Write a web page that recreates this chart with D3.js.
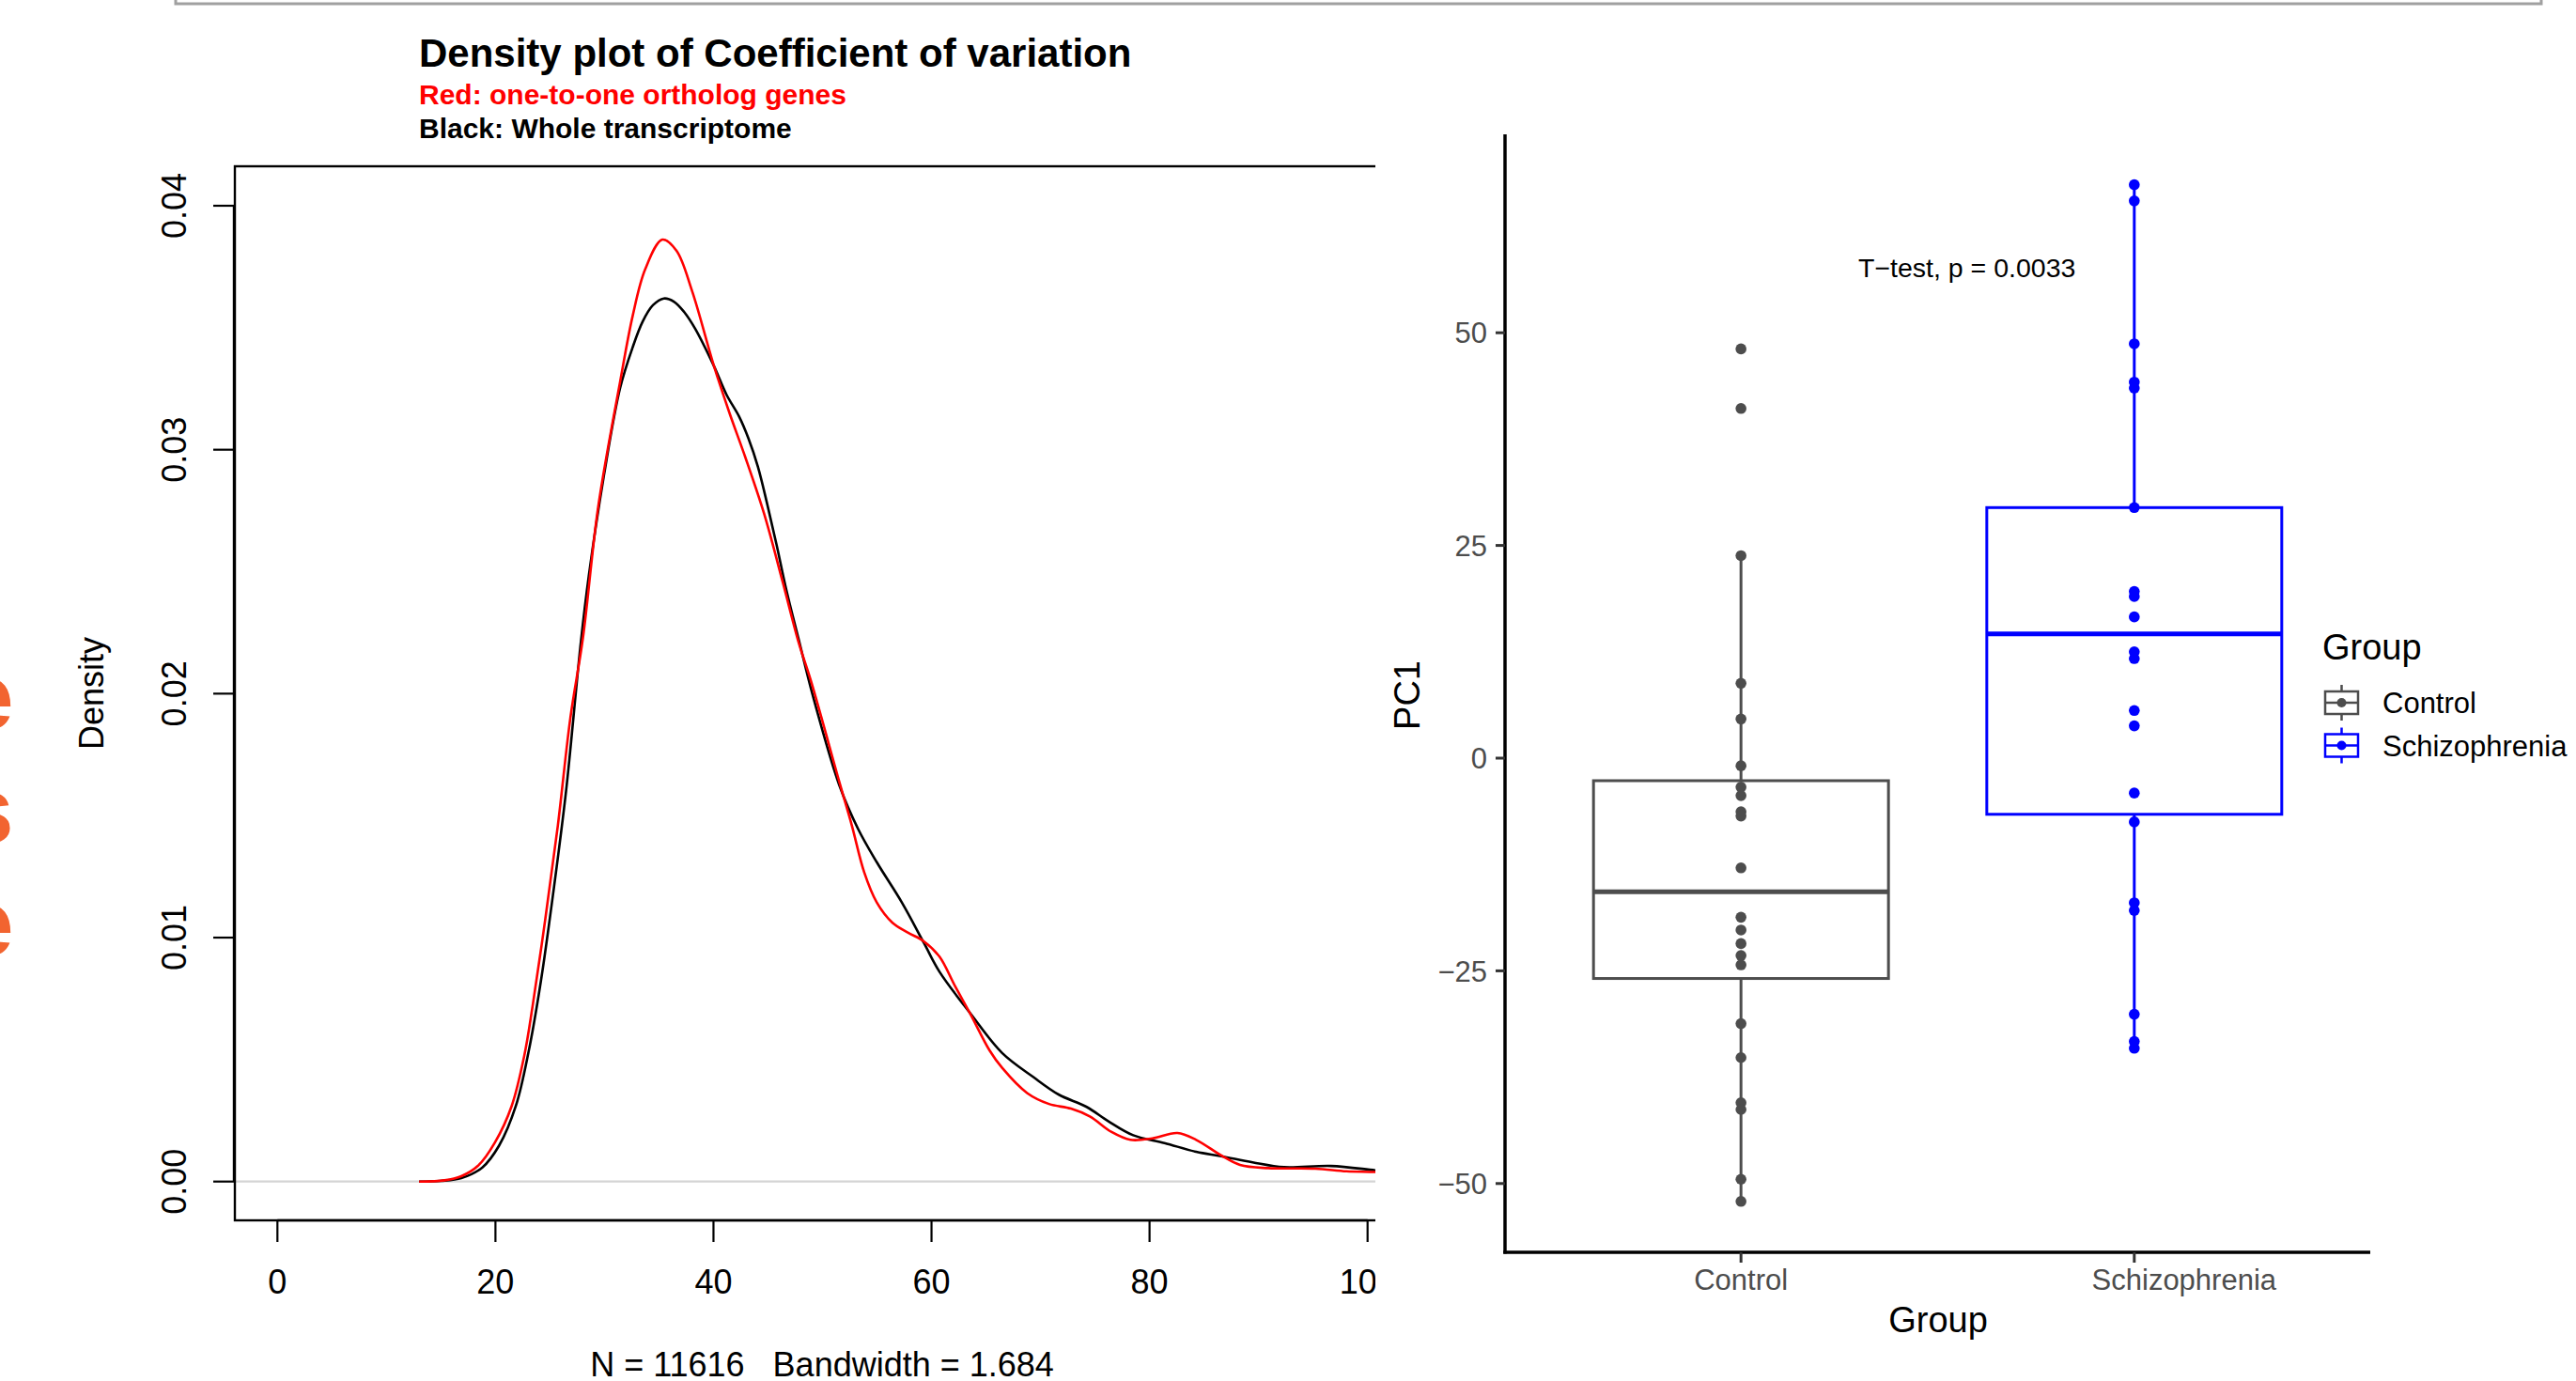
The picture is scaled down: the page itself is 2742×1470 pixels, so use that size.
<!DOCTYPE html>
<html><head><meta charset="utf-8">
<script src="https://cdn.jsdelivr.net/npm/d3@7"></script>
<style>
body{margin:0;background:#fff}
svg{display:block}
text{font-family:"Liberation Sans",Arial,Helvetica,sans-serif}
</style>
</head><body>
<svg id="c" width="2742" height="1470"></svg>
<script>
// ---------- DATA ----------
const densityTicksX = [0, 20, 40, 60, 80, 100];
const densityTicksY = [0, 0.01, 0.02, 0.03, 0.04];

// Black: whole transcriptome (CV value, density)
const wholeCV = [13.0, 15.0, 16.87, 18.8, 20.33, 21.87, 23.03, 24.18, 25.33, 26.49, 27.83, 28.56, 29.99, 31.43, 32.58, 33.5, 34.44, 35.45, 36.37, 37.32, 38.32, 40.05, 41.19, 42.35, 43.21, 44.07, 44.93, 45.79, 46.66, 47.8, 49.1, 51.54, 53.26, 54.98, 57.28, 59.29, 60.73, 63.6, 66.48, 69.35, 71.65, 74.23, 76.2, 78.5, 81.37, 84.28, 86.58, 89.45, 92.33, 96.64, 100.7, 104];
const wholeDensity = [0, 0.00003, 0.00014, 0.00058, 0.00147, 0.0031, 0.0053, 0.00825, 0.01193, 0.01606, 0.0221, 0.02482, 0.02905, 0.03252, 0.03419, 0.03525, 0.03592, 0.0362, 0.03607, 0.03564, 0.03496, 0.03342, 0.03226, 0.03136, 0.03046, 0.02931, 0.02777, 0.0261, 0.0243, 0.02225, 0.01994, 0.01625, 0.01446, 0.01309, 0.01144, 0.00979, 0.0086, 0.00687, 0.00527, 0.00428, 0.00357, 0.00306, 0.00248, 0.0019, 0.00158, 0.00122, 0.00104, 0.00079, 0.00059, 0.00064, 0.00046, 0.0003];

// Red: one-to-one ortholog genes
const orthoCV = [13.0, 15.33, 16.87, 18.41, 19.95, 21.49, 22.64, 23.41, 24.57, 25.72, 26.87, 28.03, 29.42, 31.43, 32.58, 33.73, 35.31, 36.6, 38.04, 40.05, 41.48, 42.92, 44.64, 46.36, 47.8, 48.95, 51.54, 52.69, 53.83, 54.98, 56.42, 57.86, 59.29, 60.73, 62.17, 63.6, 65.32, 66.48, 68.77, 70.78, 72.79, 74.52, 76.52, 78.25, 80.26, 82.56, 84.28, 86.58, 88.3, 90.89, 95.2, 98.07, 100.7, 104];
const orthoDensity = [0, 0.00005, 0.00022, 0.00065, 0.0016, 0.0031, 0.00515, 0.0072, 0.01075, 0.01458, 0.019, 0.0223, 0.02764, 0.03277, 0.03547, 0.03739, 0.03861, 0.03816, 0.0365, 0.03342, 0.03149, 0.02969, 0.02738, 0.02456, 0.02212, 0.02051, 0.01639, 0.0146, 0.01267, 0.01144, 0.01061, 0.0102, 0.00985, 0.00922, 0.008, 0.00684, 0.00538, 0.00466, 0.00363, 0.00318, 0.00299, 0.00267, 0.00203, 0.00171, 0.00177, 0.00199, 0.00171, 0.00107, 0.00068, 0.00055, 0.00053, 0.00042, 0.00039, 0.0003];

const groups = ["Control", "Schizophrenia"];
const controlPC1 = [48.1, 41.1, 23.8, 8.8, 4.6, -0.9, -3.4, -4.4, -6.3, -6.8, -12.9, -18.7, -20.2, -21.8, -23.2, -24.3, -31.2, -35.2, -40.5, -41.3, -49.5, -52.1];
const schizoPC1 = [67.4, 65.5, 48.7, 44.2, 43.5, 29.45, 19.6, 19.0, 16.6, 12.5, 11.7, 5.6, 3.8, -4.1, -7.5, -17.0, -17.9, -30.1, -33.3, -34.1];
const boxLow  = [-52.1, -34.1];
const boxQ1   = [-25.9, -6.6];
const boxMed  = [-15.7, 14.6];
const boxQ3   = [-2.65, 29.45];
const boxHigh = [23.8, 67.4];
const pc1Ticks = [-50, -25, 0, 25, 50];
const groupColors = ["#4d4d4d", "#0000ff"];

// ---------- DRAW ----------
const svg = d3.select("#c");

// top grey frame remnant
svg.append("rect").attr("x", 187).attr("y", -20).attr("width", 2705 - 187).attr("height", 24)
  .attr("fill", "none").attr("stroke", "#a0a0a0").attr("stroke-width", 3);

// orange cropped glyphs on far left
[["e", 776], ["s", 897], ["e", 1017]].forEach(([ch, yb]) => {
  svg.append("text").attr("x", -41).attr("y", yb).attr("font-size", 100).attr("font-weight", "bold")
    .attr("fill", "#f26430").text(ch);
});

// ===== Left: density plot =====
const left = svg.append("g");
const defs = svg.append("defs");
defs.append("clipPath").attr("id", "clipL")
  .append("rect").attr("x", 0).attr("y", 0).attr("width", 1464).attr("height", 1470);
const L = left.append("g").attr("clip-path", "url(#clipL)");

const xD = d3.scaleLinear().domain([0, 100]).range([295.3, 1455.7]);
const yD = d3.scaleLinear().domain([0, 0.04]).range([1257.7, 219]);
const plotL = 250, plotT = 177, plotR = 1500, plotB = 1299;

// zero line
L.append("line").attr("x1", plotL).attr("x2", plotR).attr("y1", yD(0)).attr("y2", yD(0))
  .attr("stroke", "#d4d4d4").attr("stroke-width", 2.2);

const line = d3.line().x(d => xD(d[0])).y(d => yD(d[1])).curve(d3.curveCatmullRom.alpha(0.5));
defs.append("clipPath").attr("id", "clipP")
  .append("rect").attr("x", plotL).attr("y", plotT).attr("width", 1464 - plotL).attr("height", plotB - plotT);
const curves = L.append("g").attr("clip-path", "url(#clipP)");
curves.append("path").datum(wholeCV.map((v, i) => [v, wholeDensity[i]]))
  .attr("d", line).attr("fill", "none").attr("stroke", "#000").attr("stroke-width", 2.6);
curves.append("path").datum(orthoCV.map((v, i) => [v, orthoDensity[i]]))
  .attr("d", line).attr("fill", "none").attr("stroke", "#ff0000").attr("stroke-width", 2.6);

// box
L.append("rect").attr("x", plotL).attr("y", plotT).attr("width", plotR - plotL).attr("height", plotB - plotT)
  .attr("fill", "none").attr("stroke", "#000").attr("stroke-width", 2.4);

// y axis
L.append("line").attr("x1", 249).attr("x2", 249).attr("y1", yD(0)).attr("y2", yD(0.04))
  .attr("stroke", "#000").attr("stroke-width", 2.4);
densityTicksY.forEach(t => {
  L.append("line").attr("x1", 227).attr("x2", 249).attr("y1", yD(t)).attr("y2", yD(t))
    .attr("stroke", "#000").attr("stroke-width", 2.2);
  L.append("text").attr("transform", `translate(198,${yD(t)}) rotate(-90)`)
    .attr("text-anchor", "middle").attr("font-size", 36).attr("fill", "#000")
    .text(d3.format(".2f")(t));
});
// x axis
L.append("line").attr("x1", xD(0)).attr("x2", xD(100)).attr("y1", plotB).attr("y2", plotB)
  .attr("stroke", "#000").attr("stroke-width", 2.4);
densityTicksX.forEach(t => {
  L.append("line").attr("x1", xD(t)).attr("x2", xD(t)).attr("y1", plotB).attr("y2", 1322)
    .attr("stroke", "#000").attr("stroke-width", 2.2);
  L.append("text").attr("x", xD(t)).attr("y", 1377).attr("text-anchor", "middle")
    .attr("font-size", 36).attr("fill", "#000").text(t);
});
// labels
L.append("text").attr("transform", `translate(110,738) rotate(-90)`).attr("text-anchor", "middle")
  .attr("font-size", 36).text("Density");
L.append("text").attr("x", 875).attr("y", 1465).attr("text-anchor", "middle").attr("font-size", 36)
  .attr("xml:space", "preserve").style("white-space", "pre").text("N = 11616   Bandwidth = 1.684");
L.append("text").attr("x", 446).attr("y", 71).attr("font-size", 42).attr("font-weight", "bold")
  .text("Density plot of Coefficient of variation");
L.append("text").attr("x", 446).attr("y", 111).attr("font-size", 30).attr("font-weight", "bold")
  .attr("fill", "#ff0000").text("Red: one-to-one ortholog genes");
L.append("text").attr("x", 446).attr("y", 147).attr("font-size", 30).attr("font-weight", "bold")
  .attr("fill", "#000").text("Black: Whole transcriptome");

// ===== Right: box plot =====
const R = svg.append("g");
const xB = d3.scaleLinear().domain([0.4, 2.6]).range([1602, 2523]);
const yB = d3.scaleLinear().domain([-50, 50]).range([1259.8, 354.2]);
const boxW = 0.75;
const allPts = [controlPC1, schizoPC1];
const labelShift = [0, 53];

groups.forEach((g, i) => {
  const cx = xB(i + 1), col = groupColors[i];
  const x0 = xB(i + 1 - boxW / 2), x1 = xB(i + 1 + boxW / 2);
  const gg = R.append("g");
  gg.append("line").attr("x1", cx).attr("x2", cx).attr("y1", yB(boxQ3[i])).attr("y2", yB(boxHigh[i]))
    .attr("stroke", col).attr("stroke-width", 3);
  gg.append("line").attr("x1", cx).attr("x2", cx).attr("y1", yB(boxQ1[i])).attr("y2", yB(boxLow[i]))
    .attr("stroke", col).attr("stroke-width", 3);
  gg.append("rect").attr("x", x0).attr("y", yB(boxQ3[i])).attr("width", x1 - x0)
    .attr("height", yB(boxQ1[i]) - yB(boxQ3[i])).attr("fill", "#fff").attr("stroke", col).attr("stroke-width", 3);
  gg.append("line").attr("x1", x0).attr("x2", x1).attr("y1", yB(boxMed[i])).attr("y2", yB(boxMed[i]))
    .attr("stroke", col).attr("stroke-width", 5);
  gg.selectAll("circle").data(allPts[i]).enter().append("circle")
    .attr("cx", cx).attr("cy", d => yB(d)).attr("r", 5.8).attr("fill", col);
});

// axes
R.append("line").attr("x1", 1602).attr("x2", 1602).attr("y1", 143).attr("y2", 1334.5)
  .attr("stroke", "#000").attr("stroke-width", 3.5);
R.append("line").attr("x1", 1600.25).attr("x2", 2523).attr("y1", 1333).attr("y2", 1333)
  .attr("stroke", "#000").attr("stroke-width", 3.5);
pc1Ticks.forEach(t => {
  R.append("line").attr("x1", 1592).attr("x2", 1602).attr("y1", yB(t)).attr("y2", yB(t))
    .attr("stroke", "#333").attr("stroke-width", 3);
  R.append("text").attr("x", 1583).attr("y", yB(t)).attr("dy", "0.36em").attr("text-anchor", "end")
    .attr("font-size", 31).attr("fill", "#4d4d4d").text(t < 0 ? "\u2212" + Math.abs(t) : t);
});
groups.forEach((g, i) => {
  R.append("line").attr("x1", xB(i + 1)).attr("x2", xB(i + 1)).attr("y1", 1333).attr("y2", 1344)
    .attr("stroke", "#333").attr("stroke-width", 3);
  R.append("text").attr("x", xB(i + 1) + labelShift[i]).attr("y", 1373).attr("text-anchor", "middle")
    .attr("font-size", 31).attr("fill", "#4d4d4d").text(g);
});
R.append("text").attr("x", 2063).attr("y", 1418).attr("text-anchor", "middle").attr("font-size", 38).text("Group");
R.append("text").attr("transform", "translate(1511,740) rotate(-90)").attr("text-anchor", "middle")
  .attr("font-size", 38).text("PC1");
R.append("text").attr("x", 1978).attr("y", 295).attr("font-size", 28.5).text("T\u2212test, p = 0.0033");

// legend
R.append("text").attr("x", 2472).attr("y", 702).attr("font-size", 38).text("Group");
groups.forEach((g, i) => {
  const cy = 748 + i * 45.5, col = groupColors[i];
  const kx0 = 2475, kx1 = 2510, kc = (kx0 + kx1) / 2;
  R.append("line").attr("x1", kc).attr("x2", kc).attr("y1", cy - 19).attr("y2", cy + 19)
    .attr("stroke", col).attr("stroke-width", 2.5);
  R.append("rect").attr("x", kx0).attr("y", cy - 12).attr("width", kx1 - kx0).attr("height", 24)
    .attr("fill", "#fff").attr("stroke", col).attr("stroke-width", 2.5);
  R.append("line").attr("x1", kx0).attr("x2", kx1).attr("y1", cy).attr("y2", cy)
    .attr("stroke", col).attr("stroke-width", 2.5);
  R.append("circle").attr("cx", kc).attr("cy", cy).attr("r", 5).attr("fill", col);
  R.append("text").attr("x", 2536).attr("y", cy).attr("dy", "0.36em").attr("font-size", 31).text(g);
});
</script>
</body></html>
